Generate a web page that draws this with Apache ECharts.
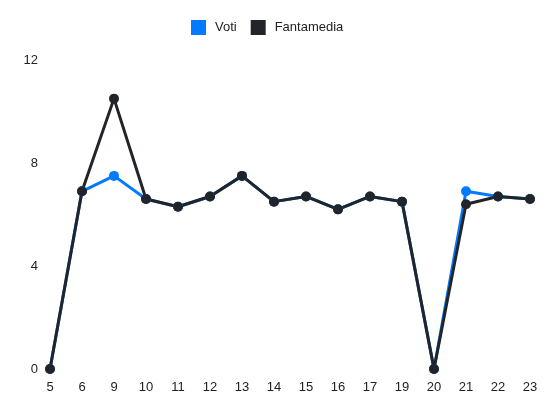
<!DOCTYPE html>
<html><head><meta charset="utf-8">
<script src="https://cdn.jsdelivr.net/npm/echarts@6/dist/echarts.min.js"></script>
<style>html,body{margin:0;padding:0;background:#fff}#c{width:550px;height:412px}</style>
</head><body><div id="c"></div>
<script>
var categories = ['5','6','9','10','11','12','13','14','15','16','17','19','20','21','22','23'];
var voti =       [0, 6.9, 7.5, 6.6, 6.3, 6.7, 7.5, 6.5, 6.7, 6.2, 6.7, 6.5, 0, 6.9, 6.7, 6.6];
var fantamedia = [0, 6.9, 10.5, 6.6, 6.3, 6.7, 7.5, 6.5, 6.7, 6.2, 6.7, 6.5, 0, 6.4, 6.7, 6.6];
var yTicks = [0, 4, 8, 12];

var chart = echarts.init(document.getElementById('c'));
chart.setOption({
  animation: false,
  textStyle: {fontFamily: 'Liberation Sans, Arial, sans-serif'},
  legend: {
    top: 15, left: 186, itemWidth: 15, itemHeight: 15, itemGap: 14,
    icon: 'rect',
    textStyle: {fontSize: 13, color: '#222', padding: [0, 0, 0, 4]},
    data: ['Voti', 'Fantamedia']
  },
  grid: {left: 50, right: 20, top: 60, bottom: 43},
  xAxis: {
    type: 'category', data: categories, boundaryGap: false,
    axisLine: {show: false}, axisTick: {show: false},
    axisLabel: {color: '#222', fontSize: 13, margin: 12}
  },
  yAxis: {
    type: 'value', min: 0, max: 12, interval: 4,
    splitLine: {show: false}, axisLine: {show: false}, axisTick: {show: false},
    axisLabel: {color: '#222', fontSize: 13, margin: 12,
      formatter: function(v){ return yTicks.indexOf(v) >= 0 ? String(v) : ''; }}
  },
  series: [
    {name: 'Voti', type: 'line', data: voti, symbol: 'circle', symbolSize: 10,
     lineStyle: {width: 3, color: '#007bff'}, itemStyle: {color: '#007bff'}},
    {name: 'Fantamedia', type: 'line', data: fantamedia, symbol: 'circle', symbolSize: 10,
     lineStyle: {width: 3, color: '#212529'}, itemStyle: {color: '#212529'}}
  ]
});
</script></body></html>
